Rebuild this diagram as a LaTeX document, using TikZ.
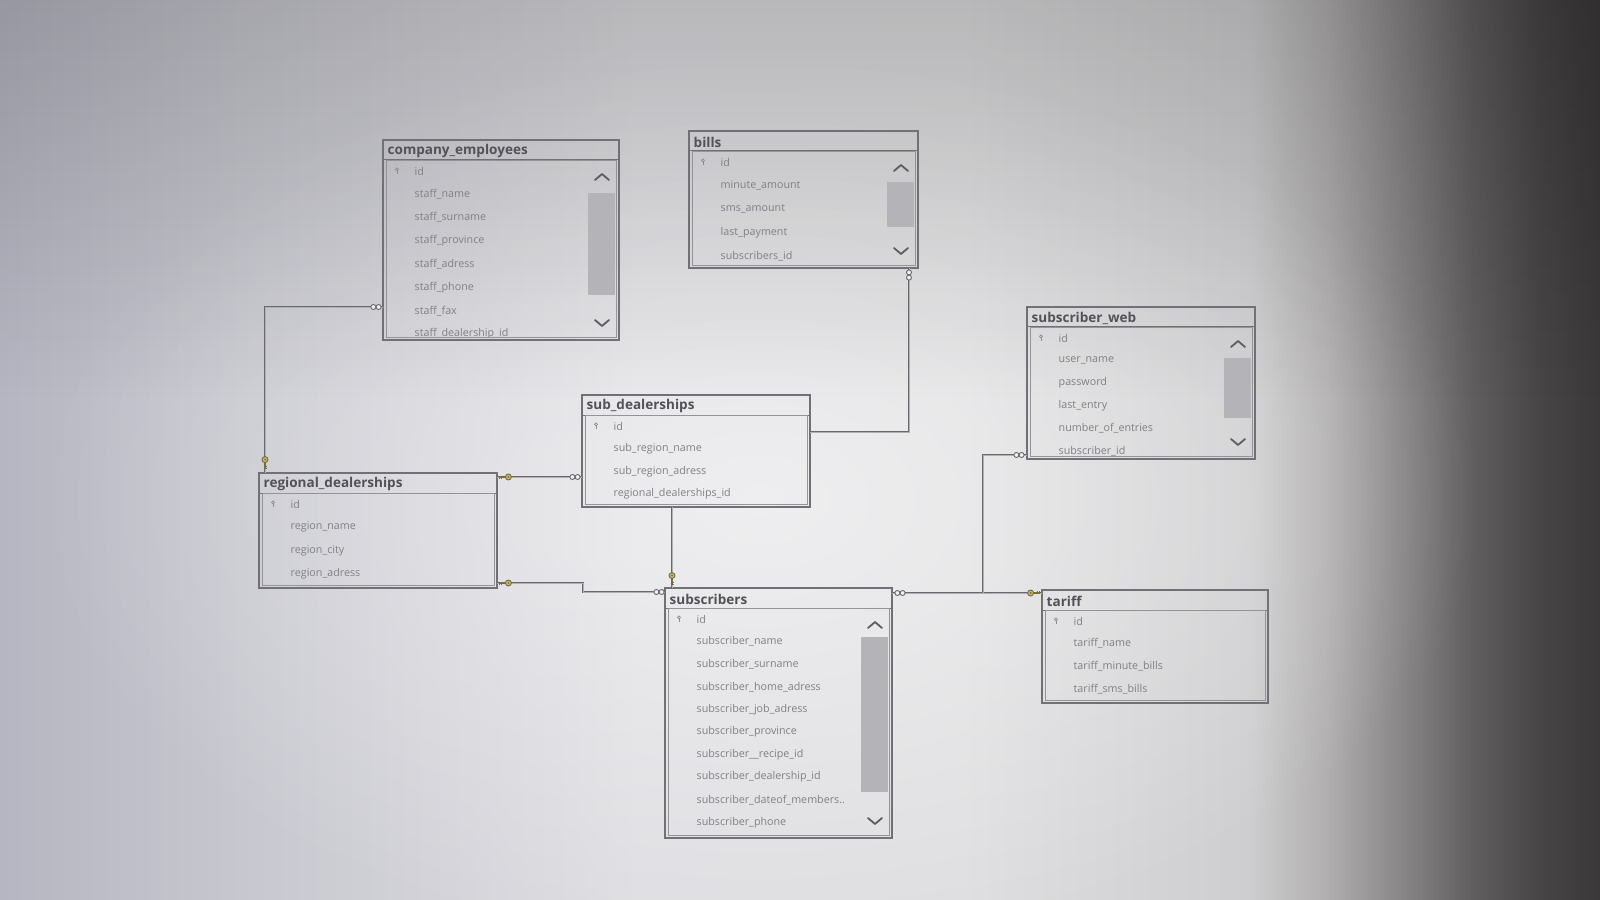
\documentclass[tikz,border=0pt]{standalone}
\usepackage{fontspec}
\setmainfont{Open Sans}
\usetikzlibrary{calc,fadings}

% screen and diagram colours
\definecolor{bgA}{RGB}{182,182,194}
\definecolor{bgB}{RGB}{200,200,208}
\definecolor{bgC}{RGB}{222,222,226}
\definecolor{bgD}{RGB}{222,222,224}
\definecolor{bgE}{RGB}{206,206,208}
\definecolor{bgF}{RGB}{176,174,174}
\definecolor{bgG}{RGB}{132,130,130}
\definecolor{bgJ}{RGB}{96,94,94}
\definecolor{bgI}{RGB}{72,70,70}
\definecolor{bgH}{RGB}{58,56,56}
\definecolor{frame}{RGB}{112,112,118}
\definecolor{titletext}{RGB}{82,82,88}
\definecolor{rowtext}{RGB}{128,128,134}
\definecolor{keygray}{RGB}{140,140,146}
\definecolor{thumb}{RGB}{180,180,184}
\definecolor{chev}{RGB}{92,92,98}
\definecolor{linkline}{RGB}{104,104,110}
\definecolor{linkcore}{RGB}{176,176,182}
\definecolor{keygold}{RGB}{196,180,112}
\definecolor{keyedge}{RGB}{120,108,60}

\pgfdeclarehorizontalshading{screenglow}{100bp}{%
  color(0bp)=(bgA); color(25bp)=(bgA); color(33bp)=(bgB); color(45bp)=(bgC);
  color(55bp)=(bgD); color(64bp)=(bgE); color(66.5bp)=(bgF); color(69bp)=(bgG);
  color(71bp)=(bgJ); color(73bp)=(bgI); color(75bp)=(bgH); color(100bp)=(bgH)}
\tikzfading[name=fadetop, top color=transparent!0, bottom color=transparent!100]
\tikzfading[name=glow, inner color=transparent!0, outer color=transparent!100]

% one table: name, x, y, width, height, title, row pitch, rows
\newcommand\erdtable[8]{%
  \node[tablebox, minimum width=#4*0.1mm, minimum height=#5*0.1mm, anchor=north west] (#1) at (#2,#3) {};
  \draw[frame, line width=0.1mm] ($(#1.north west)+(0,20)$) -- ($(#1.north east)+(0,20)$);
  \draw[frame!75!white, line width=0.07mm] ($(#1.north west)+(3,20)$) rectangle ($(#1.south east)+(-3,-3)$);
  \node[titlestyle, anchor=west] (#1-title) at ($(#1.north west)+(4,11)$) {#6};
  \begin{scope}
    \clip ($(#1.north west)+(3,20)$) rectangle ($(#1.south east)+(-3,-3)$);
    \foreach \rowtxt [count=\i from 0] in {#8}{%
      \node[rowstyle, anchor=west] (#1-r\i) at ($(#1.north west)+(31,31+\i*#7)$) {\rowtxt};
    }
  \end{scope}
  \pic at ($(#1.north west)+(14,31)$) {pkkey};
}

% scroll bar of a table: name, thumb top, thumb bottom
\newcommand\erdscroll[3]{%
  \fill[thumb] ($(#1.north east)+(-31,#2)$) rectangle ($(#1.north east)+(-4,#3)$);
  \draw[chevron] ($(#1.north east)+(-24,40)$) -- ($(#1.north east)+(-17,34)$) -- ($(#1.north east)+(-10,40)$);
  \draw[chevron] ($(#1.south east)+(-24,-20)$) -- ($(#1.south east)+(-17,-14)$) -- ($(#1.south east)+(-10,-20)$);
}

\begin{document}
\begin{tikzpicture}[x=0.1mm,y=-0.1mm,
  tablebox/.style={draw=frame, line width=0.15mm, inner sep=0pt, outer sep=0pt},
  titlestyle/.style={text=titletext, font=\fontsize{3.85}{4.6}\selectfont\bfseries, inner sep=0pt},
  rowstyle/.style={text=rowtext, font=\fontsize{3.05}{3.6}\selectfont, inner sep=0pt},
  chevron/.style={draw=chev, line width=0.18mm, line cap=round, line join=round},
  link/.style={draw=linkline, line width=0.08mm, double=linkcore, double distance=0.07mm},
  pkkey/.pic={
    \draw[keygray, line width=0.08mm] (0,-1.6) circle (1.5);
    \draw[keygray, line width=0.08mm] (0,-0.1) -- (0,3.4) (0,2.4) -- (1.3,2.4);
  },
  many/.pic={
    \draw[linkline, line width=0.09mm, fill=white!88!gray] (-2.6,0) circle (2.5) (2.6,0) circle (2.5);
  },
  fkey/.pic={
    \draw[keyedge, line width=0.13mm] (-0.5,0) -- (-6.5,0) (-4.2,0) -- (-4.2,2.2) (-6.3,0) -- (-6.3,2.2);
    \draw[keyedge, line width=0.09mm, fill=keygold] (2.4,0) circle (3);
    \fill[keyedge] (2.4,0) circle (0.9);
  }]

% screen background
\useasboundingbox (0,0) rectangle (1600,900);
\shade[shading=screenglow] (0,0) rectangle (1600,900);
\fill[white, path fading=glow, fill opacity=0.5] (760,500) ellipse (720 and 460);
\fill[black, path fading=fadetop, fill opacity=0.17] (0,0) rectangle (1600,400);

% tables
\erdtable{ce}{383}{140}{236}{200}{company\_employees}{23.3}{id,staff\_name,staff\_surname,staff\_province,staff\_adress,staff\_phone,staff\_fax,staff\_dealership\_id}
\erdtable{bills}{689}{131}{229}{137}{bills}{23.5}{id,minute\_amount,sms\_amount,last\_payment,subscribers\_id}
\erdtable{sw}{1027}{307}{228}{152}{subscriber\_web}{22.6}{id,user\_name,password,last\_entry,number\_of\_entries,subscriber\_id}
\erdtable{sd}{582}{395}{228}{112}{sub\_dealerships}{22.7}{id,sub\_region\_name,sub\_region\_adress,regional\_dealerships\_id}
\erdtable{rd}{259}{473}{238}{115}{regional\_dealerships}{23.3}{id,region\_name,region\_city,region\_adress}
\erdtable{subs}{665}{588}{227}{250}{subscribers}{22.6}{id,subscriber\_name,subscriber\_surname,subscriber\_home\_adress,subscriber\_job\_adress,subscriber\_province,subscriber\_\_recipe\_id,subscriber\_dealership\_id,subscriber\_dateof\_members..,subscriber\_phone}
\erdtable{tariff}{1042}{590}{226}{113}{tariff}{22.7}{id,tariff\_name,tariff\_minute\_bills,tariff\_sms\_bills}

\erdscroll{ce}{53}{155}
\erdscroll{bills}{51}{96}
\erdscroll{sw}{51}{111}
\erdscroll{subs}{49}{204}

% relationship end points
\coordinate (ce-rd-a) at ($(ce.north west)+(0,167)$);
\coordinate (ce-rd-b) at ($(rd.north west)+(6,0)$);
\coordinate (rd-sd-a) at ($(rd.north east)+(0,4)$);
\coordinate (rd-subs-a) at ($(rd.north east)+(0,110)$);
\coordinate (rd-subs-b) at ($(subs.north west)+(0,4)$);
\coordinate (sd-subs-a) at ($(sd.south west)+(90,0)$);
\coordinate (bills-sd-a) at ($(bills.south west)+(220,0)$);
\coordinate (bills-sd-b) at ($(sd.north east)+(0,37)$);
\coordinate (subs-tar-a) at ($(subs.north east)+(0,5)$);
\coordinate (sw-a) at ($(sw.south west)+(0,-4)$);

% relationship lines
\draw[link] (ce-rd-a) -| (ce-rd-b);
\draw[link] (rd-sd-a) -- (rd-sd-a -| sd.west);
\draw[link] (rd-subs-a) -- ++(86,0) |- (rd-subs-b);
\draw[link] (sd-subs-a) -- (sd-subs-a |- subs.north);
\draw[link] (bills-sd-a) |- (bills-sd-b);
\draw[link] (subs-tar-a) -- (subs-tar-a -| tariff.west);
\draw[link] (sw-a) -- ++(-44,0) |- (subs-tar-a);

% relationship end symbols
\pic at ($(ce-rd-a)+(-7,0)$) {many};
\pic[rotate=90] at ($(ce-rd-b)+(0,-11)$) {fkey};
\pic at ($(rd-sd-a)+(9,0)$) {fkey};
\pic at ($(rd-sd-a -| sd.west)+(-7,0)$) {many};
\pic at ($(rd-subs-a)+(9,0)$) {fkey};
\pic at ($(rd-subs-b)+(-6,0)$) {many};
\pic[rotate=90] at ($(sd-subs-a |- subs.north)+(0,-10)$) {fkey};
\pic[rotate=90] at ($(bills-sd-a)+(0,7)$) {many};
\pic at ($(subs-tar-a)+(8,0)$) {many};
\pic[rotate=180] at ($(subs-tar-a -| tariff.west)+(-9,0)$) {fkey};
\pic at ($(sw-a)+(-8,0)$) {many};
\end{tikzpicture}
\end{document}
